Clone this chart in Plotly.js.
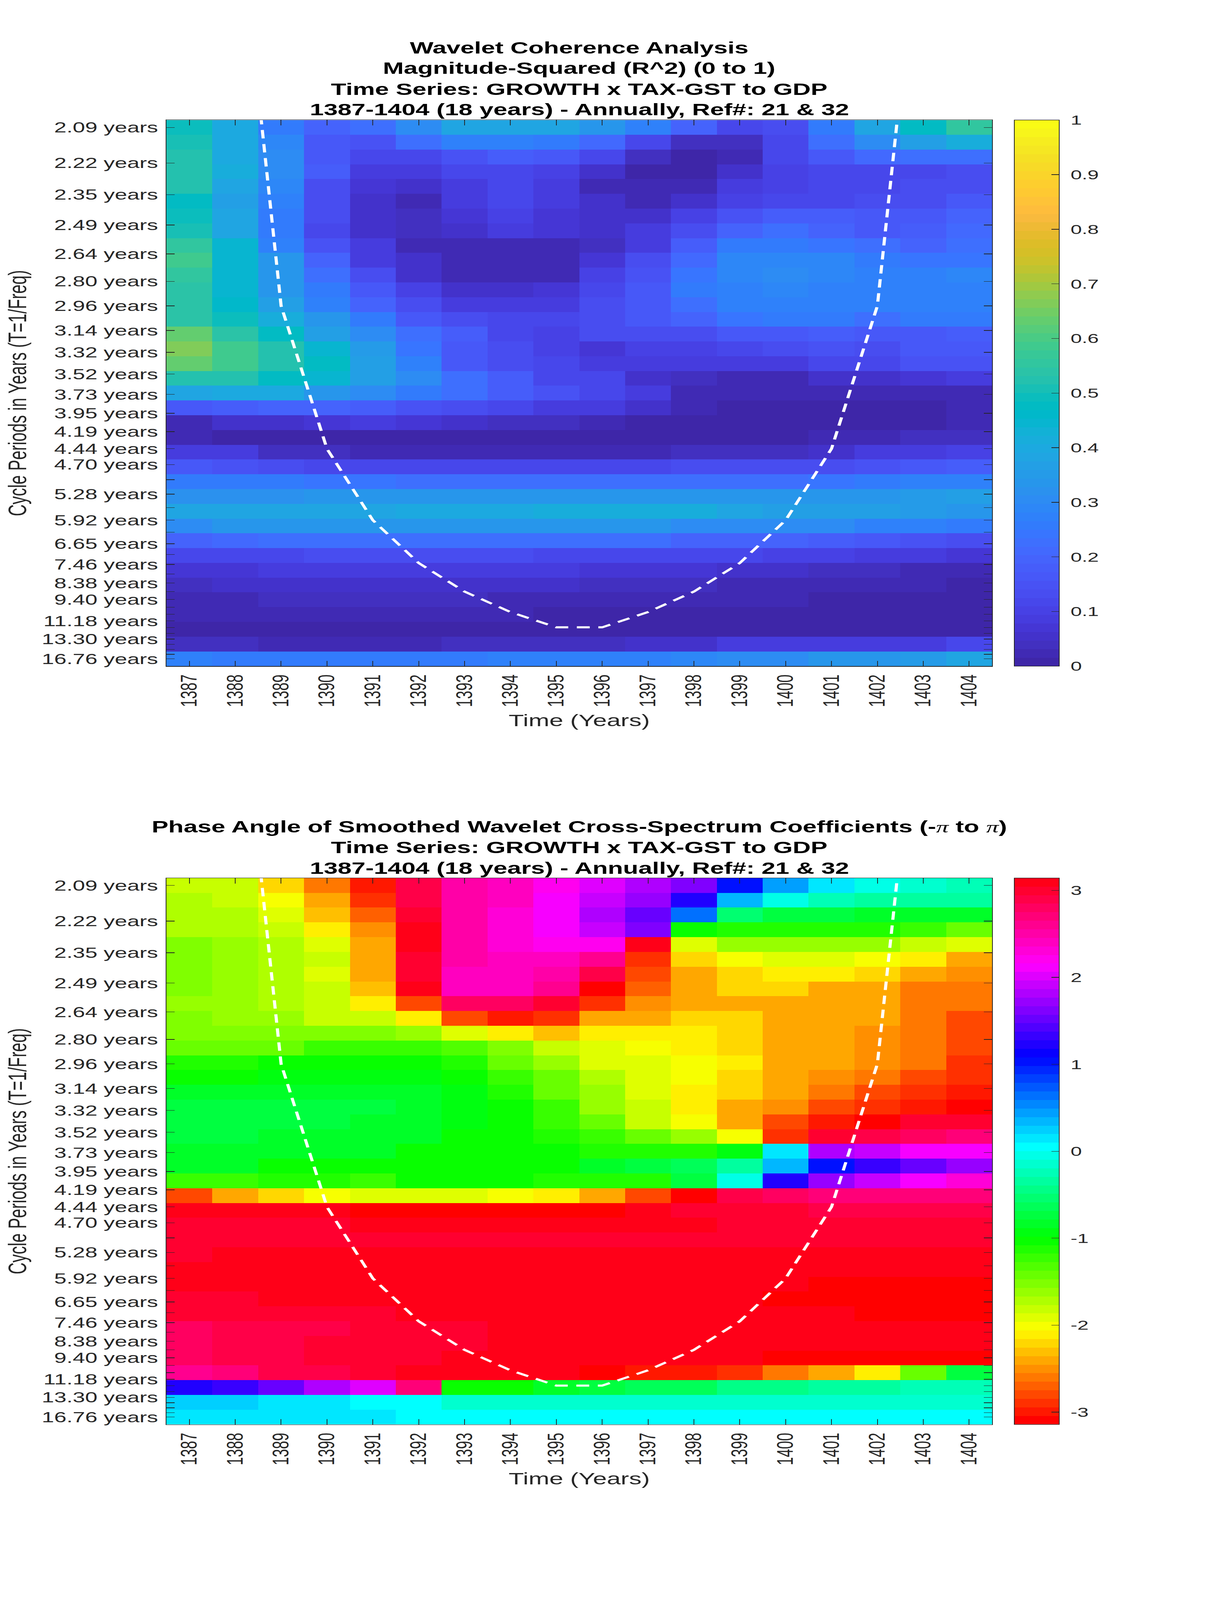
<!DOCTYPE html>
<html><head><meta charset="utf-8">
<script src="https://cdn.plot.ly/plotly-3.0.1.min.js"></script>
<style>html,body{margin:0;padding:0;background:#fff;overflow:hidden}#fit{transform-origin:0 0;width:3125px;height:6252px}</style></head>
<body><div id="fit"><div id="chart" style="width:3125px;height:6252px"></div></div>
<script>
const years=[1387,1388,1389,1390,1391,1392,1393,1394,1395,1396,1397,1398,1399,1400,1401,1402,1403,1404];
const freqRows=[0.4785,0.4669,0.4553,0.4436,0.4320,0.4204,0.4087,0.3971,0.3855,0.3738,0.3622,0.3506,0.3389,0.3273,0.3157,0.3040,0.2924,0.2808,0.2691,0.2575,0.2459,0.2342,0.2226,0.2110,0.1993,0.1877,0.1761,0.1644,0.1528,0.1412,0.1295,0.1179,0.1062,0.0946,0.0830,0.0713,0.0597];
const periodTicks=[2.09,2.22,2.35,2.49,2.64,2.80,2.96,3.14,3.32,3.52,3.73,3.95,4.19,4.44,4.70,4.98,5.28,5.59,5.92,6.27,6.65,7.05,7.46,7.91,8.38,8.88,9.40,9.96,10.56,11.18,11.85,12.55,13.30,14.09,14.93,15.82,16.76];
const periodLabels=["2.09 years","2.22 years","2.35 years","2.49 years","2.64 years","2.80 years","2.96 years","3.14 years","3.32 years","3.52 years","3.73 years","3.95 years","4.19 years","4.44 years","4.70 years","","5.28 years","","5.92 years","","6.65 years","","7.46 years","","8.38 years","","9.40 years","","","11.18 years","","","13.30 years","","","","16.76 years"];
const coiYears=[1388,1389,1390,1391,1392,1393,1394,1395,1396,1397,1398,1399,1400,1401,1402,1403];
const coiPeriods=[1.48,2.96,4.44,5.92,7.40,8.88,10.36,11.84,11.84,10.36,8.88,7.40,5.92,4.44,2.96,1.48];
const coherence=[
[.49,.40,.25,.19,.22,.31,.39,.39,.38,.34,.28,.19,.11,.14,.26,.39,.47,.55],
[.51,.40,.29,.16,.15,.22,.28,.27,.26,.21,.12,.04,.04,.11,.22,.31,.36,.42],
[.53,.40,.30,.17,.11,.11,.15,.18,.16,.11,.04,.01,.03,.11,.16,.21,.23,.23],
[.53,.41,.30,.18,.09,.08,.11,.12,.10,.06,.01,.01,.05,.10,.11,.12,.12,.13],
[.52,.39,.29,.14,.07,.05,.09,.11,.08,.03,.02,.03,.08,.10,.12,.12,.13,.13],
[.47,.37,.27,.13,.05,.03,.08,.11,.08,.05,.03,.06,.10,.11,.12,.13,.14,.16],
[.49,.38,.26,.13,.05,.04,.07,.10,.07,.05,.05,.10,.15,.18,.18,.16,.16,.19],
[.51,.38,.26,.11,.05,.04,.05,.08,.07,.06,.08,.14,.19,.22,.20,.17,.18,.21],
[.56,.44,.28,.15,.08,.03,.03,.03,.02,.04,.09,.18,.26,.26,.24,.23,.20,.22],
[.58,.44,.33,.19,.09,.05,.02,.02,.03,.07,.13,.21,.29,.29,.29,.25,.24,.24],
[.56,.45,.34,.23,.13,.06,.02,.02,.03,.10,.15,.24,.29,.31,.29,.28,.27,.29],
[.54,.45,.33,.25,.17,.10,.05,.05,.07,.12,.16,.25,.28,.29,.28,.28,.28,.28],
[.54,.46,.36,.28,.20,.14,.09,.08,.09,.13,.16,.23,.28,.28,.28,.27,.28,.28],
[.54,.49,.41,.33,.26,.17,.14,.11,.11,.13,.17,.20,.24,.25,.25,.23,.26,.26],
[.63,.54,.47,.37,.30,.23,.18,.12,.10,.13,.13,.14,.16,.16,.18,.17,.17,.18],
[.66,.58,.52,.44,.35,.24,.16,.14,.10,.07,.10,.10,.11,.13,.15,.14,.17,.17],
[.64,.59,.53,.47,.36,.28,.17,.14,.11,.08,.08,.08,.08,.09,.11,.11,.15,.15],
[.53,.52,.47,.44,.37,.31,.23,.18,.12,.12,.06,.04,.02,.02,.05,.06,.07,.08],
[.39,.40,.40,.34,.31,.26,.23,.18,.15,.11,.08,.03,.02,.02,.02,.02,.03,.03],
[.17,.18,.20,.20,.18,.15,.13,.11,.09,.08,.06,.03,.01,.01,.01,.01,.01,.02],
[.03,.05,.05,.07,.08,.07,.05,.04,.04,.03,.01,.01,.01,.01,.01,.01,.00,.02],
[.02,.00,.00,.00,.00,.00,.00,.00,.00,.00,.00,.00,.00,.00,.02,.02,.04,.04],
[.08,.08,.04,.04,.03,.03,.03,.03,.02,.02,.02,.04,.04,.04,.06,.08,.09,.10],
[.17,.15,.14,.12,.12,.11,.11,.11,.11,.11,.11,.13,.13,.13,.14,.15,.16,.18],
[.26,.26,.26,.24,.24,.22,.22,.22,.22,.22,.22,.23,.23,.23,.24,.26,.27,.28],
[.32,.32,.32,.33,.33,.33,.33,.33,.33,.33,.33,.33,.33,.33,.33,.34,.35,.36],
[.38,.38,.39,.39,.39,.40,.40,.40,.41,.41,.41,.41,.38,.37,.36,.36,.35,.33],
[.30,.33,.33,.34,.34,.34,.34,.34,.34,.34,.34,.31,.30,.30,.30,.28,.27,.25],
[.19,.21,.22,.22,.22,.22,.22,.22,.22,.22,.22,.20,.20,.20,.18,.17,.15,.14],
[.11,.11,.11,.13,.13,.13,.13,.13,.12,.12,.12,.11,.11,.10,.10,.09,.08,.07],
[.07,.07,.08,.08,.08,.08,.08,.08,.08,.07,.07,.07,.05,.05,.04,.04,.02,.02],
[.04,.05,.05,.05,.05,.05,.05,.05,.05,.04,.04,.04,.03,.03,.03,.02,.02,.00],
[.03,.03,.04,.04,.04,.04,.04,.03,.03,.03,.03,.02,.02,.02,.01,.01,.01,.01],
[.02,.02,.02,.02,.02,.02,.02,.02,.00,.00,.00,.00,.00,.00,.00,.01,.01,.01],
[.00,.00,.00,.00,.00,.00,.00,.00,.00,.00,.00,.00,.00,.00,.00,.01,.01,.01],
[.04,.04,.03,.03,.03,.03,.04,.04,.04,.04,.05,.05,.08,.08,.09,.09,.09,.11],
[.27,.26,.26,.26,.26,.26,.26,.27,.27,.28,.28,.29,.31,.31,.33,.34,.35,.38]];
const phase=[
[-1.78,-1.83,-2.23,-2.62,-3.0,2.88,2.49,2.36,2.16,2.0,1.83,1.63,1.05,.42,.13,-.06,-.16,-.2],
[-1.75,-1.83,-2.05,-2.42,-2.88,2.88,2.55,2.36,2.09,1.87,1.72,1.25,.39,-.06,-.26,-.3,-.35,-.35],
[-1.70,-1.73,-1.94,-2.3,-2.69,3.0,2.55,2.3,2.13,1.83,1.52,.62,-.52,-.72,-.72,-.79,-.83,-.83],
[-1.70,-1.73,-1.83,-2.09,-2.49,3.14,2.55,2.3,2.13,1.96,1.66,-1.05,-1.15,-1.15,-1.15,-1.15,-1.25,-1.38],
[-1.57,-1.6,-1.70,-1.96,-2.36,3.14,2.55,2.33,2.16,2.23,3.14,-1.87,-1.66,-1.66,-1.66,-1.62,-1.78,-1.96],
[-1.57,-1.6,-1.7,-1.83,-2.36,3.0,2.49,2.45,2.45,2.6,-2.88,-2.25,-2.05,-1.96,-1.96,-2.05,-2.14,-2.36],
[-1.57,-1.6,-1.7,-1.9,-2.4,3.0,2.45,2.45,2.55,2.88,-2.75,-2.36,-2.25,-2.14,-2.14,-2.25,-2.36,-2.55],
[-1.57,-1.6,-1.73,-1.83,-2.3,3.14,2.45,2.45,2.62,-3.14,-2.69,-2.36,-2.25,-2.25,-2.36,-2.36,-2.58,-2.65],
[-1.6,-1.62,-1.73,-1.83,-2.14,-2.75,2.75,2.75,2.95,-2.85,-2.49,-2.36,-2.36,-2.36,-2.36,-2.42,-2.58,-2.65],
[-1.57,-1.6,-1.62,-1.78,-1.83,-2.14,-2.8,-3.0,-2.85,-2.45,-2.4,-2.25,-2.25,-2.36,-2.36,-2.45,-2.65,-2.75],
[-1.5,-1.57,-1.57,-1.57,-1.57,-1.66,-1.87,-2.14,-2.3,-2.14,-2.14,-2.14,-2.25,-2.36,-2.45,-2.55,-2.65,-2.75],
[-1.38,-1.38,-1.38,-1.27,-1.27,-1.27,-1.33,-1.57,-1.85,-1.96,-2.05,-2.14,-2.25,-2.36,-2.45,-2.55,-2.65,-2.75],
[-1.15,-1.15,-1.05,-1.05,-1.05,-1.05,-1.15,-1.38,-1.66,-1.87,-1.96,-2.05,-2.14,-2.36,-2.45,-2.55,-2.65,-2.85],
[-1.05,-1.05,-.92,-.92,-.92,-.92,-1.0,-1.25,-1.4,-1.73,-1.96,-2.05,-2.25,-2.36,-2.55,-2.65,-2.75,-2.85],
[-.79,-.79,-.79,-.79,-.83,-.83,-.95,-1.1,-1.38,-1.62,-1.96,-2.14,-2.25,-2.45,-2.65,-2.8,-2.88,-2.95],
[-.72,-.72,-.72,-.72,-.72,-.85,-.95,-1.05,-1.27,-1.6,-1.83,-2.14,-2.36,-2.55,-2.75,-2.9,-2.95,-3.05],
[-.72,-.72,-.72,-.72,-.79,-.83,-.95,-1.05,-1.22,-1.47,-1.78,-2.05,-2.45,-2.75,-2.95,-3.05,3.0,3.0],
[-.72,-.72,-.83,-.83,-.88,-.88,-1.0,-1.05,-1.12,-1.27,-1.44,-1.66,-2.05,-2.85,3.0,2.88,2.75,2.7],
[-.83,-.83,-.88,-.88,-.88,-1.0,-1.0,-1.0,-1.0,-1.1,-1.1,-1.1,-.9,.1,1.83,1.92,2.09,2.09],
[-.85,-.85,-1.0,-1.0,-1.0,-1.05,-1.05,-1.05,-1.0,-.79,-.72,-.65,-.39,.3,1.05,1.31,1.52,1.72],
[-1.2,-1.2,-1.15,-1.15,-1.2,-1.0,-1.05,-1.05,-1.1,-1.1,-1.1,-.72,-.06,1.18,1.7,1.92,2.09,2.3],
[-2.75,-2.45,-2.25,-2.05,-1.96,-1.96,-1.96,-2.05,-2.14,-2.36,-2.75,-3.14,2.88,2.75,2.7,2.7,2.7,2.7],
[3.06,3.06,3.14,3.14,-3.05,-3.05,-3.05,-3.05,-3.1,-3.13,3.08,3.0,3.0,3.0,2.93,2.93,2.93,2.93],
[2.95,2.95,2.95,3.0,3.05,3.05,3.05,3.05,3.05,3.05,3.05,3.05,2.95,2.95,2.95,2.95,2.95,2.95],
[2.95,2.95,2.95,3.0,3.0,3.0,3.0,3.0,3.0,3.0,3.0,3.0,3.0,3.0,3.0,3.0,3.0,3.0],
[3.0,3.05,3.05,3.05,3.05,3.05,3.05,3.05,3.1,3.13,3.13,3.13,3.13,3.13,3.13,3.13,3.13,3.13],
[3.05,3.05,3.05,3.05,3.05,3.05,3.13,3.13,3.13,3.13,3.13,3.13,3.13,3.13,3.13,3.13,3.13,3.13],
[3.05,3.05,3.05,3.05,3.05,3.05,3.13,3.13,3.13,3.13,3.13,3.13,3.13,3.13,-3.05,-3.05,-3.05,-3.05],
[3.0,3.0,3.08,3.08,3.08,3.08,3.08,3.13,3.13,3.13,3.13,3.13,3.13,-3.05,-3.05,-3.05,-3.05,-3.05],
[2.95,3.0,3.0,3.0,3.0,3.08,3.08,3.08,3.08,3.13,3.13,3.13,3.13,3.13,3.13,-3.05,-3.05,-3.05],
[2.8,2.9,2.9,2.9,3.0,3.0,3.0,3.05,3.05,3.05,3.05,3.13,3.13,3.13,3.13,3.13,3.13,3.13],
[2.8,2.9,2.9,3.0,3.0,3.0,3.0,3.05,3.05,3.05,3.13,3.13,3.13,3.13,3.13,3.13,3.13,3.13],
[2.75,2.9,2.9,3.0,3.0,3.0,3.05,3.05,3.08,3.13,3.13,3.13,3.13,-3.05,-3.05,-3.05,-3.05,-3.05],
[2.62,2.7,2.93,2.93,2.95,3.13,3.13,3.13,3.13,-3.05,-2.95,-2.95,-2.85,-2.65,-2.45,-2.14,-1.38,-.72],
[1.18,1.35,1.52,1.78,2.0,2.7,-1.05,-1.05,-.85,-.72,-.65,-.6,-.48,-.42,-.39,-.33,-.22,-.22],
[.2,.2,.1,.1,0,0,-.1,-.1,-.1,-.1,-.18,-.18,-.18,-.18,-.13,-.13,-.13,-.13],
[.1,.1,.1,.1,.1,0,0,0,0,0,0,0,0,0,0,0,0,0]];
const titleLines1=["Wavelet Coherence Analysis","Magnitude-Squared (R^2) (0 to 1)","Time Series: GROWTH x TAX-GST to GDP","1387-1404 (18 years) - Annually, Ref#: 21 & 32"];
const titleLines2=['Phase Angle of Smoothed Wavelet Cross-Spectrum Coefficients (-<span style="font-family:\'Liberation Serif\';font-weight:normal"><i>π</i></span> to <span style="font-family:\'Liberation Serif\';font-weight:normal"><i>π</i></span>)',"Time Series: GROWTH x TAX-GST to GDP","1387-1404 (18 years) - Annually, Ref#: 21 & 32"];
const parula=["#3E26A8","#402AB4","#4230C0","#4332CB","#4536D5","#463CDE","#4741E5","#4747EB","#484DF0","#4852F4","#4758F8","#465DFA","#4563FC","#4269FE","#3E6FFE","#3875FF","#327BFC","#2F81FA","#2D87F7","#2D8CF3","#2B91EE","#2796EB","#259BE8","#239FE5","#20A5E2","#1CA9E0","#18ADDB","#12B1D6","#08B5D0","#01B8CA","#02BBC3","#0BBDBD","#18BFB5","#24C1AE","#2BC3A7","#31C69F","#37C897","#3FCA8E","#4ACB84","#57CC7A","#63CD6F","#71CD64","#81CC59","#90CB4F","#A0C942","#B0C638","#BFC430","#CCC22A","#D5BF27","#DDBD28","#E6BB2D","#EFBA35","#F8BA3D","#FEBD3C","#FEC338","#FEC932","#FDCE2E","#FAD42A","#F7DA27","#F5E024","#F5E722","#F6ED1F","#F7F51B","#F9FB15"];
function stepScale(colors){const out=[];const n=colors.length;colors.forEach((c,i)=>{out.push([i/n,c]);out.push([(i+1)/n,c]);});return out;}
const hsv64=[];for(let i=0;i<64;i++){const h=i/64*360;const s=h/60,k=Math.floor(s),f=s-k;const v=[[1,f,0],[1-f,1,0],[0,1,f],[0,1-f,1],[f,0,1],[1,0,1-f]][k];hsv64.push("rgb("+v.map(a=>Math.round(a*255)).join(",")+")");}
const W=3125,H=6252,ink="#262626",FONT="'Liberation Sans',Arial,sans-serif";
const L=426,R=2539,CB=2596,CBW=115;
const panels=[{t:469,b:2603},{t:3431,b:5566}];
const freqTicks=periodTicks.map(p=>1/p);
const coiFreq=coiPeriods.map(p=>1/p);
const yr=[0.05386,0.48432];
function dom(p){return [1-p.b/H,1-p.t/H];}
function xa(a,p){return {domain:[L/W,R/W],anchor:a,range:[1386.5,1404.5],tickvals:years,ticktext:years.map(String),tickangle:-90,ticks:'inside',ticklen:21,tickwidth:2,tickcolor:ink,mirror:'ticks',showline:true,linecolor:ink,linewidth:2,showgrid:false,zeroline:false,tickfont:{family:FONT,size:57,color:ink},ticklabelstandoff:8,title:{text:'Time (Years)',font:{family:FONT,size:64,color:ink},standoff:31},automargin:false};}
function ya(a,p){return {domain:dom(p),anchor:a,range:yr,tickvals:freqTicks,ticktext:periodLabels,ticks:'inside',ticklen:21,tickwidth:2,tickcolor:ink,mirror:'ticks',showline:true,linecolor:ink,linewidth:2,showgrid:false,zeroline:false,tickfont:{family:FONT,size:57,color:ink},ticklabelstandoff:8,title:{text:'Cycle Periods in Years (T=1/Freq)',font:{family:FONT,size:64,color:ink},standoff:18},automargin:false};}
function cb(p,vals,txt){return {x:CB/W,xanchor:'left',xpad:0,ypad:0,y:(dom(p)[0]+dom(p)[1])/2,yanchor:'middle',len:(p.b-p.t)/H,lenmode:'fraction',thickness:CBW,thicknessmode:'pixels',outlinewidth:2,outlinecolor:ink,ticks:'inside',ticklen:21,tickwidth:2,tickcolor:ink,tickvals:vals,ticktext:txt,tickfont:{family:FONT,size:52,color:ink},ticklabelposition:'outside'};}
const cohTicks=[0,.1,.2,.3,.4,.5,.6,.7,.8,.9,1],cohText=["0","0.1","0.2","0.3","0.4","0.5","0.6","0.7","0.8","0.9","1"];
const phaTicks=[-3,-2,-1,0,1,2,3],phaText=["-3","-2","-1","0","1","2","3"];
const coiLine={color:'#ffffff',width:8,dash:'33px,22px'};
const traces=[
{type:'heatmap',x:years,y:freqRows,z:coherence,zmin:0,zmax:1,zsmooth:false,colorscale:stepScale(parula),colorbar:cb(panels[0],cohTicks,cohText),xaxis:'x',yaxis:'y'},
{type:'scatter',mode:'lines',x:coiYears,y:coiFreq,line:coiLine,xaxis:'x',yaxis:'y',showlegend:false},
{type:'heatmap',x:years,y:freqRows,z:phase,zmin:-Math.PI,zmax:Math.PI,zsmooth:false,colorscale:stepScale(hsv64),colorbar:cb(panels[1],phaTicks,phaText),xaxis:'x2',yaxis:'y2'},
{type:'scatter',mode:'lines',x:coiYears,y:coiFreq,line:coiLine,xaxis:'x2',yaxis:'y2',showlegend:false}];
const annotations=[];
function addLines(lines,ys){lines.forEach((t,i)=>annotations.push({xref:'paper',yref:'paper',x:(L+R)/2/W,y:1-ys[i]/H,xanchor:'center',yanchor:'middle',showarrow:false,text:'<b>'+t+'</b>',font:{family:FONT,size:64,color:'#000'}}));}
addLines(titleLines1,[187,267,349,429]);
addLines(titleLines2,[3231,3311,3392]);
const layout={width:W,height:H,margin:{l:0,r:0,t:0,b:0,pad:0},paper_bgcolor:'#fff',plot_bgcolor:'#fff',showlegend:false,xaxis:xa('y',panels[0]),yaxis:ya('x',panels[0]),xaxis2:xa('y2',panels[1]),yaxis2:ya('x2',panels[1]),annotations:annotations};
// The browser window may be shorter than the requested page; fit the whole figure into it.
const fit=document.getElementById('fit');
const k=Math.min(1,window.innerHeight/H);
Plotly.newPlot('chart',traces,layout,{displayModeBar:false}).then(()=>{
  document.querySelectorAll('.cbaxis text, .colorbar .ytick text').forEach(t=>t.setAttribute('dx','17'));
  fit.style.transform='scale(1,'+k+')';
  document.documentElement.style.height=document.body.style.height='100vh';
});
</script></body></html>
